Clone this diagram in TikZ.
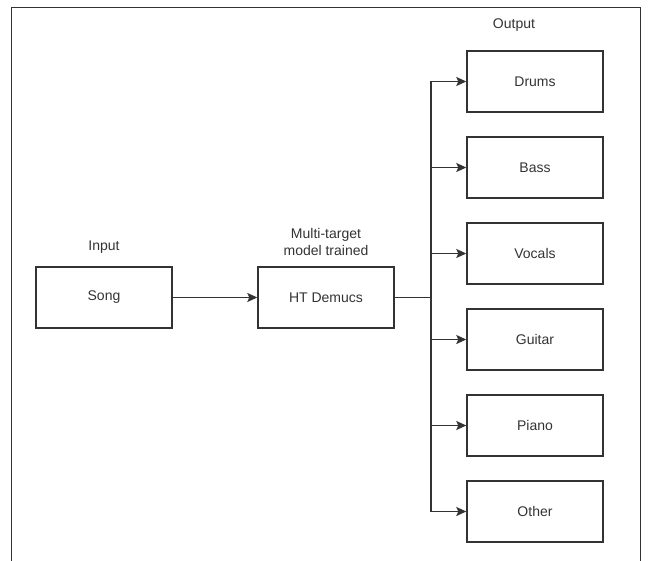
\documentclass[tikz,border=0pt]{standalone}
\usepackage{fontspec}
\setmainfont{Liberation Sans}
\usetikzlibrary{arrows.meta}
\definecolor{ln}{HTML}{333333}
\tikzset{
  box/.style={draw=ln, line width=1.4pt, minimum width=136pt, minimum height=61pt, inner sep=0pt, text=ln, font=\fontsize{14pt}{16pt}\selectfont},
  lbl/.style={text=ln, font=\fontsize{14pt}{17pt}\selectfont, align=center, inner sep=0pt},
  conn/.style={draw=ln, line width=1.4pt},
  arr/.style={conn, -{Stealth[length=10pt,width=9pt,inset=2pt]}}
}
\begin{document}
\begin{tikzpicture}[x=1pt,y=-1pt]
\useasboundingbox (0,0) rectangle (648,560);
\draw[line width=1pt, draw=black!80] (11,562) -- (11,7) -- (640,7) -- (640,562);
\node[box] (song) at (104,297.5) {Song};
\node[box] (ht) at (326,297.5) {HT Demucs};
\node[lbl] (lin) at (104,247) {Input};
\node[lbl] (lmt) at (326,242) {Multi-target\\model trained};
\node[lbl] (lout) at (514,25) {Output};
\foreach \n/\t [count=\i from 0] in {drums/Drums,bass/Bass,vocals/Vocals,guitar/Guitar,piano/Piano,other/Other}{
  \node[box] (\n) at (535,{81.5+86*\i}) {\t};
}
\coordinate (trunk) at (431,297.5);
\draw[arr] (song) -- (ht);
\draw[conn] (ht.east) -- (trunk);
\foreach \n in {drums,bass,vocals,guitar,piano,other}{
  \draw[arr] (trunk) |- (\n.west);
}
\end{tikzpicture}
\end{document}
